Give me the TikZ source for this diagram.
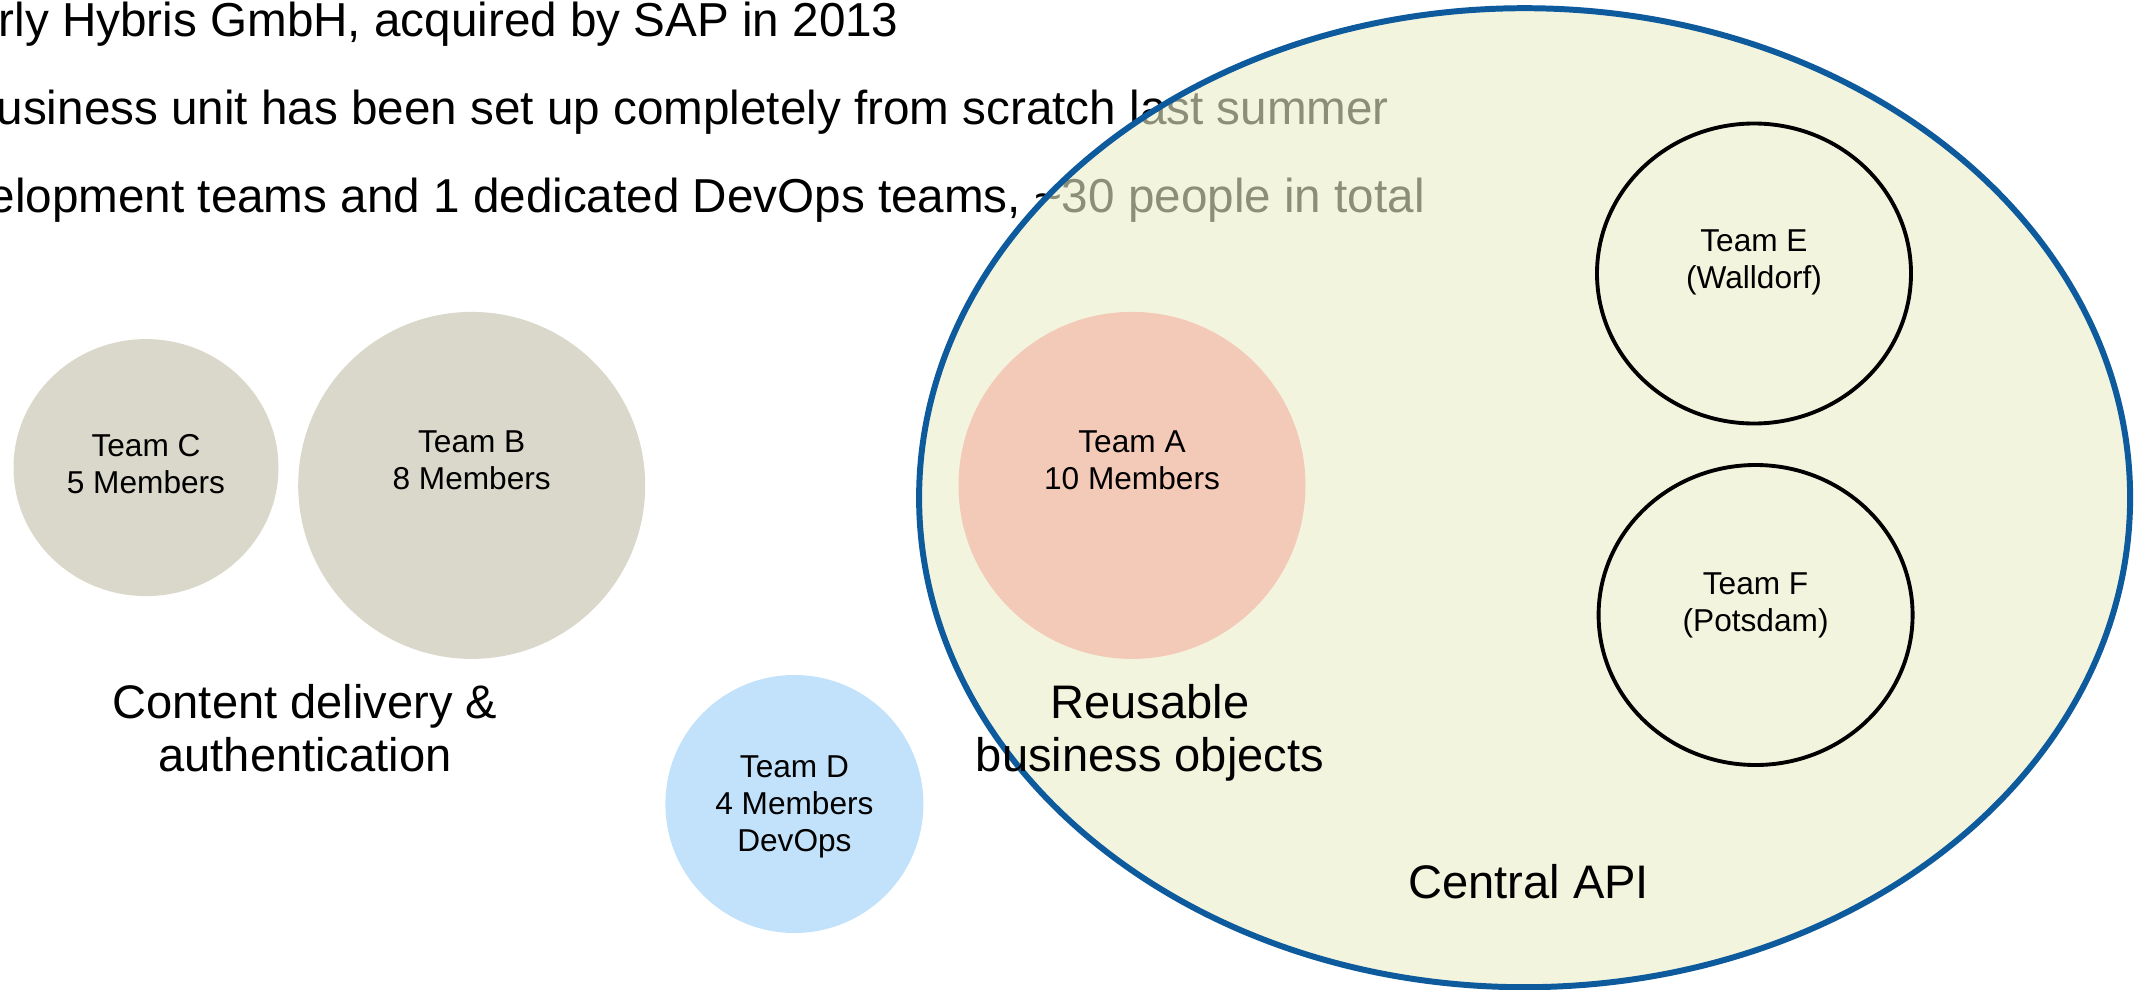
\documentclass[tikz,border=0pt]{standalone}
\usepackage{fontspec}
\setmainfont{Liberation Sans}
\usetikzlibrary{shapes.geometric}
\definecolor{teamgray}{HTML}{D9D8CA}
\definecolor{teamsalmon}{HTML}{F3C9B8}
\definecolor{teamblue}{HTML}{C2E2FB}
\definecolor{apiblue}{HTML}{0D5A9C}
\definecolor{apifill}{HTML}{EBEDC8}
\tikzset{
  every picture/.style={line join=round, line cap=round},
  team/.style={circle, inner sep=0pt},
  teamtxt/.style={font=\fontsize{9}{10.5}\selectfont, align=center, inner sep=0pt},
  bigtxt/.style={font=\fontsize{13.4}{15.2}\selectfont, align=center, inner sep=0pt},
  introtxt/.style={font=\fontsize{13.55}{15.2}\selectfont, inner sep=0pt, anchor=base west},
}

\begin{document}
\begin{tikzpicture}
\useasboundingbox (0,0) rectangle (21.44,-9.9);
% intro lines, cut at the left edge
\node[introtxt] (intro1) at (-0.02,-0.37) {rly Hybris GmbH, acquired by SAP in 2013};
\node[introtxt] (intro2) at (-0.04,-1.25) {usiness unit has been set up completely from scratch last summer};
\node[introtxt] (intro3) at (-0.12,-2.12) {elopment teams and 1 dedicated DevOps teams, \textasciitilde30 people in total};

% central API area
\node[ellipse, draw=apiblue, line width=1.7pt, fill=apifill, fill opacity=0.6,
  minimum width=12.11cm, minimum height=9.79cm] (api) at (15.246,-4.977) {};

% teams
\node[ellipse, inner sep=0pt, fill=teamgray, minimum width=2.65cm, minimum height=2.57cm] (teamC) at (1.46,-4.676) {};
\node[team, fill=teamgray, minimum size=3.47cm] (teamB) at (4.717,-4.854) {};
\node[team, fill=teamsalmon, minimum size=3.47cm] (teamA) at (11.32,-4.854) {};
\node[team, fill=teamblue, minimum size=2.58cm] (teamD) at (7.944,-8.04) {};
\node[ellipse, inner sep=0pt, draw, line width=1.1pt, minimum width=3.14cm, minimum height=3.0cm] (teamE) at (17.54,-2.735) {};
\node[ellipse, inner sep=0pt, draw, line width=1.1pt, minimum width=3.14cm, minimum height=3.0cm] (teamF) at (17.556,-6.15) {};

\node[teamtxt] (teamCtxt) at (1.46,-4.64) {Team C\\5 Members};
\node[teamtxt] (teamBtxt) at (4.717,-4.60) {Team B\\8 Members};
\node[teamtxt] (teamAtxt) at (11.32,-4.60) {Team A\\10 Members};
\node[teamtxt] (teamDtxt) at (7.944,-8.07) {Team D\\4 Members\\DevOps};
\node[teamtxt] (teamEtxt) at (17.54,-2.625) {Team E\\(Walldorf)};
\node[teamtxt] (teamFtxt) at (17.556,-6.055) {Team F\\(Potsdam)};

% area labels
\node[bigtxt] (content) at (3.05,-7.28) {Content delivery \&\\authentication};
\node[bigtxt] (reuse) at (11.5,-7.33) {Reusable\\business objects};
\node[bigtxt] (central) at (15.287,-8.82) {Central API};
\end{tikzpicture}
\end{document}
